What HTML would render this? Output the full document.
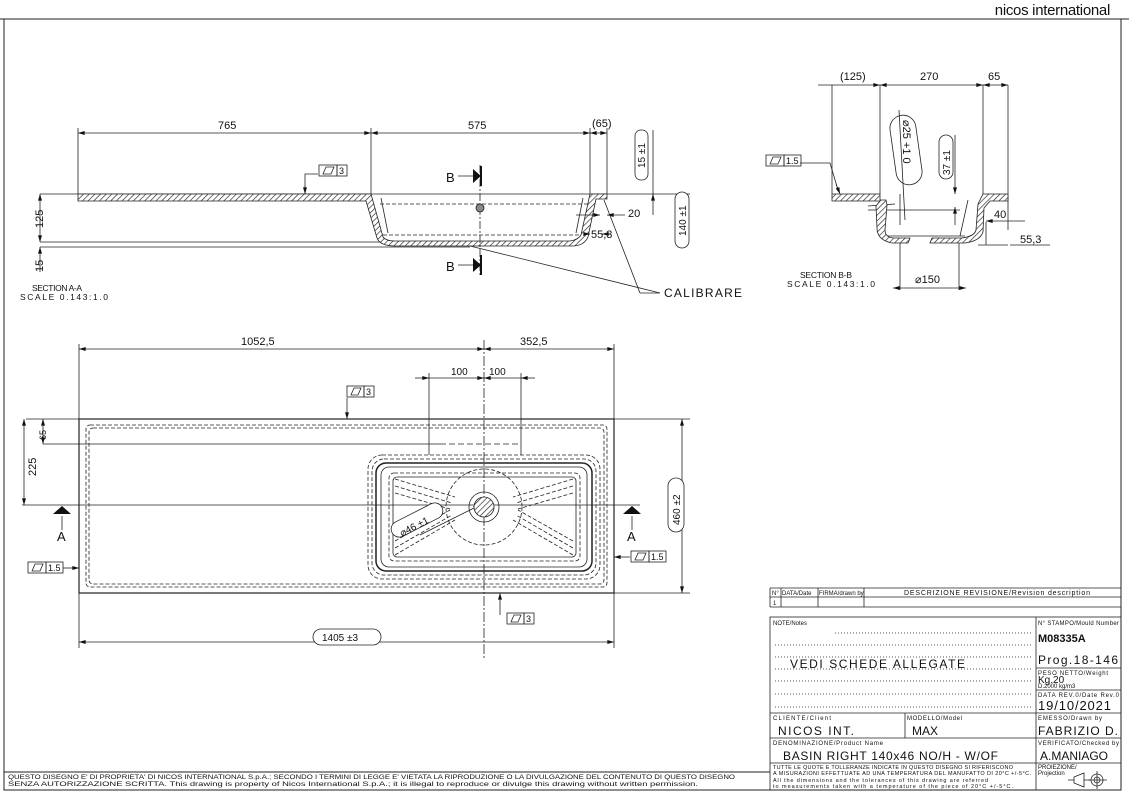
<!DOCTYPE html>
<html><head><meta charset="utf-8"><style>
body{margin:0;background:#fff}
svg{display:block;font-family:"Liberation Sans",sans-serif}
text{fill:#111}
</style></head><body>
<svg width="1129" height="798" viewBox="0 0 1129 798" xmlns="http://www.w3.org/2000/svg">
<defs>
<pattern id="h" width="4" height="4" patternUnits="userSpaceOnUse" patternTransform="rotate(45)"><rect width="4" height="4" fill="#fff"/><line x1="0" y1="0" x2="0" y2="4" stroke="#222" stroke-width="1.3"/></pattern>
<marker id="a" viewBox="0 0 10 6" refX="10" refY="3" markerWidth="9" markerHeight="5" orient="auto-start-reverse"><path d="M0,0L10,3L0,6z" fill="#111"/></marker>
</defs>
<rect width="1129" height="798" fill="#fff"/>
<text x="1110" y="15" font-size="15" text-anchor="end" style="letter-spacing:-0.3px">nicos international</text>
<g stroke="#222" fill="none" stroke-width="1">
<line x1="0" y1="19" x2="1129" y2="19"/>
<rect x="4" y="19" width="1117" height="771"/>
<line x1="4" y1="772" x2="770" y2="772"/>
</g>
<text x="8" y="779" font-size="6.5" textLength="727" lengthAdjust="spacingAndGlyphs">QUESTO DISEGNO E' DI PROPRIETA' DI NICOS INTERNATIONAL S.p.A.; SECONDO I TERMINI DI LEGGE E' VIETATA LA RIPRODUZIONE O LA DIVULGAZIONE DEL CONTENUTO DI QUESTO DISEGNO</text>
<text x="8" y="786" font-size="6.5" textLength="690" lengthAdjust="spacingAndGlyphs">SENZA AUTORIZZAZIONE SCRITTA. This drawing is property of Nicos International S.p.A.; it is illegal to reproduce or divulge this drawing without written permission.</text>

<!-- SECTION A-A -->
<g stroke="#222" stroke-width="0.8" fill="none">
<line x1="40" y1="194" x2="690" y2="194"/>
<line x1="40" y1="242" x2="385" y2="242"/>
<line x1="40" y1="247" x2="470" y2="247"/>
<line x1="78" y1="128" x2="78" y2="194"/>
<line x1="371" y1="128" x2="371" y2="194"/>
<line x1="590" y1="128" x2="590" y2="194"/>
<line x1="607" y1="128" x2="607" y2="194"/>
<line x1="78" y1="133" x2="371" y2="133" marker-start="url(#a)" marker-end="url(#a)"/>
<line x1="371" y1="133" x2="590" y2="133" marker-start="url(#a)" marker-end="url(#a)"/>
<line x1="590" y1="133" x2="607" y2="133" marker-start="url(#a)" marker-end="url(#a)"/>
<line x1="40" y1="194" x2="40" y2="242" marker-start="url(#a)" marker-end="url(#a)"/>
<line x1="40" y1="247" x2="40" y2="272" marker-start="url(#a)"/>
<line x1="682" y1="194" x2="682" y2="247" marker-start="url(#a)" marker-end="url(#a)"/>
<line x1="653" y1="130" x2="653" y2="215"/>
<line x1="653" y1="200" x2="653" y2="194" marker-end="url(#a)"/>
</g>
<path d="M78,194H371L383,237Q386,241 395,241H570Q578,240 581,235L590,194H607V199H596L588,237Q584,246 572,246H395Q380,246 377,238L366,201H78Z" fill="url(#h)" stroke="#222" stroke-width="0.8"/>
<g stroke="#222" stroke-width="0.8" fill="none">
<line x1="380" y1="204" x2="590" y2="204" stroke-dasharray="4,2"/>
<line x1="383" y1="235" x2="580" y2="235" stroke-dasharray="4,2"/>
<line x1="381" y1="198" x2="388" y2="233"/><line x1="583" y1="198" x2="576" y2="233"/>
<line x1="480" y1="165" x2="480" y2="275" stroke-dasharray="8,2,2,2"/>
<circle cx="480" cy="208" r="4" fill="#888"/>
<line x1="458" y1="176" x2="475" y2="176"/><line x1="458" y1="265" x2="475" y2="265"/>
<line x1="576" y1="215" x2="600" y2="215" marker-end="url(#a)"/><line x1="625" y1="215" x2="607" y2="215" marker-end="url(#a)"/>
<line x1="586" y1="234" x2="590" y2="234" marker-end="url(#a)"/><line x1="610" y1="234" x2="602" y2="234" marker-end="url(#a)"/>
<line x1="470" y1="246" x2="660" y2="293"/><line x1="604" y1="200" x2="640" y2="293"/><line x1="640" y1="293" x2="660" y2="293"/>
<path d="M305,194V174H318" /><line x1="305" y1="186" x2="305" y2="194" marker-end="url(#a)"/>
</g>
<path d="M473,169L481,176L473,183Z M473,258L481,265L473,272Z" fill="#111"/>
<line x1="481" y1="166" x2="481" y2="186" stroke="#111" stroke-width="2"/><line x1="481" y1="255" x2="481" y2="275" stroke="#111" stroke-width="2"/>
<text x="446" y="182" font-size="13">B</text><text x="446" y="271" font-size="13">B</text>
<rect x="319" y="165" width="18" height="11" fill="none" stroke="#222" stroke-width="0.8"/><rect x="337" y="165" width="10" height="11" fill="none" stroke="#222" stroke-width="0.8"/>
<text x="339" y="174" font-size="9">3</text><path d="M323,174L326,167H334L331,174Z" fill="none" stroke="#222" stroke-width="0.8"/>
<text x="218" y="129" font-size="11">765</text><text x="468" y="129" font-size="11">575</text><text x="592" y="127" font-size="11">(65)</text>
<text x="628" y="217" font-size="11">20</text><text x="591" y="238" font-size="11">55,3</text>
<text x="664" y="297" font-size="12" textLength="78">CALIBRARE</text>
<text transform="translate(43,228) rotate(-90)" font-size="11">125</text>
<text transform="translate(43,272) rotate(-90)" font-size="11">15</text>
<rect x="635" y="130" width="13" height="50" rx="6" fill="none" stroke="#222" stroke-width="0.8"/>
<text transform="translate(645,168) rotate(-90)" font-size="10">15 ±1</text>
<rect x="675" y="192" width="14" height="56" rx="7" fill="#fff" stroke="#222" stroke-width="0.8"/>
<text transform="translate(686,236) rotate(-90)" font-size="10">140 ±1</text>
<text x="32" y="291" font-size="8.5" textLength="50">SECTION A-A</text><text x="20" y="300" font-size="8.5" textLength="88">SCALE 0.143:1.0</text>

<!-- SECTION B-B -->
<g stroke="#222" stroke-width="0.8" fill="none">
<line x1="832" y1="85" x2="832" y2="194"/><line x1="880" y1="85" x2="880" y2="194"/>
<line x1="983" y1="85" x2="983" y2="194"/><line x1="1008" y1="85" x2="1008" y2="230"/>
<line x1="818" y1="85" x2="880" y2="85" marker-end="url(#a)"/>
<line x1="880" y1="85" x2="983" y2="85" marker-start="url(#a)" marker-end="url(#a)"/>
<line x1="983" y1="85" x2="1008" y2="85" marker-start="url(#a)" marker-end="url(#a)"/>
<line x1="986" y1="222" x2="986" y2="245"/>
<line x1="1025" y1="221" x2="986" y2="221" marker-end="url(#a)"/>
<line x1="978" y1="245" x2="1008" y2="245"/><line x1="1010" y1="245" x2="1050" y2="245"/>
<line x1="900" y1="238" x2="900" y2="290"/><line x1="959" y1="238" x2="959" y2="290"/>
<line x1="893" y1="288" x2="966" y2="288" marker-start="url(#a)" marker-end="url(#a)"/>
<line x1="899" y1="110" x2="905" y2="220"/><line x1="955" y1="135" x2="955" y2="194" marker-end="url(#a)"/>
<line x1="955" y1="212" x2="955" y2="225"/><line x1="955" y1="212" x2="955" y2="207" marker-end="url(#a)"/>
<line x1="900" y1="194" x2="900" y2="225"/>
<line x1="868" y1="210" x2="960" y2="210"/><line x1="868" y1="206" x2="895" y2="204"/>
<path d="M800,163H830L838,190" /><line x1="836" y1="184" x2="840" y2="194" marker-end="url(#a)"/>
<line x1="887" y1="236" x2="965" y2="236"/><line x1="968" y1="200" x2="960" y2="236"/>
</g>
<path d="M832,194H880V200H886L887,205L885,230Q885,238 895,238L910,238L908,243L892,243Q877,240 877,228L876,206L880,201H832Z" fill="url(#h)" stroke="#222" stroke-width="0.8"/>
<path d="M983,194H1008V201H990L984,208L983,232Q980,241 965,243H930L932,238H962Q975,236 976,230L978,204Z" fill="url(#h)" stroke="#222" stroke-width="0.8"/>
<rect x="766" y="155" width="18" height="11" fill="none" stroke="#222" stroke-width="0.8"/><rect x="784" y="155" width="17" height="11" fill="none" stroke="#222" stroke-width="0.8"/>
<path d="M770,164L773,157H781L778,164Z" fill="none" stroke="#222" stroke-width="0.8"/><text x="786" y="164" font-size="9">1.5</text>
<text x="840" y="80" font-size="11">(125)</text><text x="920" y="80" font-size="11">270</text><text x="988" y="80" font-size="11">65</text>
<text x="994" y="218" font-size="11">40</text><text x="1020" y="243" font-size="11">55,3</text><text x="915" y="283" font-size="11">⌀150</text>
<rect x="893" y="115" width="26" height="70" rx="13" fill="none" stroke="#222" stroke-width="0.8" transform="rotate(-8 906 150)"/>
<text transform="translate(903,120) rotate(90)" font-size="11">⌀25 +1 0</text>
<rect x="939" y="135" width="14" height="44" rx="7" fill="none" stroke="#222" stroke-width="0.8"/>
<text transform="translate(950,175) rotate(-90)" font-size="10">37 ±1</text>
<text x="800" y="278" font-size="8.5" textLength="52">SECTION B-B</text><text x="787" y="287" font-size="8.5" textLength="88">SCALE 0.143:1.0</text>

<!-- PLAN VIEW -->
<g stroke="#222" fill="none" stroke-width="0.8">
<rect x="79" y="419" width="535" height="174" stroke-width="1.2"/>
<rect x="86" y="425" width="521" height="162" rx="4" stroke-dasharray="4,2"/>
<rect x="89" y="428" width="515" height="156" rx="4" stroke-dasharray="4,2"/>
<line x1="79" y1="344" x2="79" y2="419"/><line x1="614" y1="344" x2="614" y2="419"/>
<line x1="79" y1="349" x2="484" y2="349" marker-start="url(#a)" marker-end="url(#a)"/>
<line x1="484" y1="349" x2="614" y2="349" marker-start="url(#a)" marker-end="url(#a)"/>
<line x1="484" y1="340" x2="484" y2="660" stroke-dasharray="10,2,2,2"/>
<line x1="429" y1="373" x2="429" y2="455"/><line x1="521" y1="373" x2="521" y2="455"/>
<line x1="415" y1="378" x2="429" y2="378" marker-end="url(#a)"/><line x1="429" y1="378" x2="484" y2="378" marker-end="url(#a)"/>
<line x1="521" y1="378" x2="484" y2="378" marker-end="url(#a)"/><line x1="535" y1="378" x2="521" y2="378" marker-end="url(#a)"/>
<line x1="43" y1="444" x2="440" y2="444"/><line x1="440" y1="444" x2="520" y2="444" stroke-dasharray="6,3"/>
<line x1="22" y1="505" x2="640" y2="505"/>
<line x1="26" y1="419" x2="79" y2="419"/>
<line x1="24" y1="419" x2="24" y2="505" marker-start="url(#a)" marker-end="url(#a)"/>
<line x1="43" y1="419" x2="43" y2="444" marker-start="url(#a)" marker-end="url(#a)"/>
<line x1="614" y1="419" x2="690" y2="419"/><line x1="614" y1="593" x2="690" y2="593"/>
<line x1="682" y1="419" x2="682" y2="593" marker-start="url(#a)" marker-end="url(#a)"/>
<line x1="79" y1="593" x2="79" y2="648"/><line x1="614" y1="593" x2="614" y2="648"/>
<line x1="79" y1="642" x2="614" y2="642" marker-start="url(#a)" marker-end="url(#a)"/>
<line x1="347" y1="398" x2="347" y2="419" marker-end="url(#a)"/>
<line x1="500" y1="615" x2="500" y2="593" marker-end="url(#a)"/>
<line x1="63" y1="568" x2="79" y2="568" marker-end="url(#a)"/>
<line x1="630" y1="557" x2="614" y2="557" marker-end="url(#a)"/>
<line x1="62" y1="516" x2="62" y2="530"/><line x1="632" y1="516" x2="632" y2="530"/>
<rect x="368" y="455" width="232" height="124" rx="14" stroke-dasharray="4,2"/>
<rect x="372" y="459" width="224" height="116" rx="12" stroke-dasharray="4,2"/>
<rect x="376" y="463" width="216" height="108" rx="10" stroke-width="1.5"/>
<rect x="381" y="467" width="206" height="100" rx="8"/>
<rect x="389" y="473" width="191" height="88" rx="5" stroke-dasharray="4,2"/>
<rect x="393" y="477" width="183" height="80" rx="4"/>
<circle cx="484" cy="507" r="38" stroke-dasharray="4,2"/>
<circle cx="484" cy="507" r="15"/>
<g stroke-dasharray="4,2">
<line x1="395" y1="479" x2="455" y2="497"/><line x1="395" y1="486" x2="452" y2="503"/><line x1="395" y1="493" x2="450" y2="509"/>
<line x1="573" y1="479" x2="513" y2="497"/><line x1="573" y1="486" x2="516" y2="503"/><line x1="573" y1="493" x2="518" y2="509"/>
<line x1="395" y1="555" x2="455" y2="520"/><line x1="395" y1="548" x2="452" y2="515"/><line x1="395" y1="541" x2="450" y2="510"/>
<line x1="573" y1="555" x2="513" y2="520"/><line x1="573" y1="548" x2="516" y2="515"/><line x1="573" y1="541" x2="518" y2="510"/>
</g>
<line x1="420" y1="535" x2="480" y2="505" marker-end="url(#a)"/>
</g>
<circle cx="484" cy="507" r="10" fill="url(#h)" stroke="#222" stroke-width="0.8"/>
<path d="M53,514H71L62,506Z M623,514H641L632,506Z" fill="#111"/>
<text x="57" y="541" font-size="13">A</text><text x="627" y="541" font-size="13">A</text>
<rect x="389" y="512" width="56" height="16" rx="8" fill="#fff" stroke="#222" stroke-width="0.8" transform="rotate(-27 417 520)"/>
<text x="396" y="528" font-size="10" transform="rotate(-27 417 520)">⌀46 ±1</text>
<text x="241" y="345" font-size="11">1052,5</text><text x="520" y="345" font-size="11">352,5</text>
<text x="451" y="375" font-size="10">100</text><text x="489" y="375" font-size="10">100</text>
<text transform="translate(46,440) rotate(-90)" font-size="9">65</text>
<text transform="translate(36,476) rotate(-90)" font-size="11">225</text>
<rect x="668" y="478" width="16" height="54" rx="8" fill="#fff" stroke="#222" stroke-width="0.8"/>
<text transform="translate(680,525) rotate(-90)" font-size="10">460 ±2</text>
<rect x="313" y="629" width="68" height="16" rx="8" fill="#fff" stroke="#222" stroke-width="0.8"/>
<text x="322" y="641" font-size="10">1405 ±3</text>
<g stroke="#222" stroke-width="0.8" fill="none">
<rect x="347" y="386" width="17" height="11"/><rect x="364" y="386" width="10" height="11"/><path d="M351,395L354,388H361L358,395Z"/>
<rect x="507" y="613" width="17" height="11"/><rect x="524" y="613" width="10" height="11"/><path d="M511,622L514,615H521L518,622Z"/>
<rect x="28" y="562" width="18" height="11"/><rect x="46" y="562" width="17" height="11"/><path d="M32,571L35,564H43L40,571Z"/>
<rect x="631" y="551" width="18" height="11"/><rect x="649" y="551" width="17" height="11"/><path d="M635,560L638,553H646L643,560Z"/>
</g>
<text x="366" y="395" font-size="9">3</text><text x="526" y="622" font-size="9">3</text>
<text x="48" y="571" font-size="9">1.5</text><text x="651" y="560" font-size="9">1.5</text>

<!-- TITLE BLOCK -->
<g stroke="#222" stroke-width="0.8" fill="none">
<line x1="770" y1="588" x2="1121" y2="588"/><line x1="770" y1="597" x2="1121" y2="597"/><line x1="770" y1="607" x2="1121" y2="607"/>
<line x1="770" y1="588" x2="770" y2="607"/><line x1="781" y1="588" x2="781" y2="607"/><line x1="818" y1="588" x2="818" y2="607"/><line x1="864" y1="588" x2="864" y2="607"/>
<rect x="770" y="617" width="351" height="173"/>
<line x1="1036" y1="617" x2="1036" y2="790"/>
<line x1="1036" y1="668" x2="1121" y2="668"/><line x1="1036" y1="690" x2="1121" y2="690"/>
<line x1="770" y1="713" x2="1121" y2="713"/><line x1="770" y1="738" x2="1121" y2="738"/><line x1="770" y1="763" x2="1121" y2="763"/>
<line x1="905" y1="713" x2="905" y2="738"/>
<g stroke-dasharray="1,2"><line x1="835" y1="633" x2="1033" y2="633"/><line x1="775" y1="645" x2="1033" y2="645"/><line x1="775" y1="657" x2="1033" y2="657"/><line x1="775" y1="669" x2="1033" y2="669"/><line x1="775" y1="681" x2="1033" y2="681"/><line x1="775" y1="694" x2="1033" y2="694"/><line x1="775" y1="707" x2="1033" y2="707"/></g>
<path d="M1074,777L1084,773V787L1074,783Z M1084,780H1090 M1068,780H1074"/>
<circle cx="1097" cy="780" r="6"/><circle cx="1097" cy="780" r="3"/><line x1="1088" y1="780" x2="1107" y2="780"/><line x1="1097" y1="771" x2="1097" y2="789"/>
</g>
<g font-size="6">
<text x="772" y="595">N°</text><text x="782" y="595">DATA/Date</text><text x="819" y="595">FIRMA/drawn by</text>
<text x="904" y="595" font-size="7" textLength="186">DESCRIZIONE REVISIONE/Revision description</text>
<text x="773" y="605">1</text>
<text x="773" y="625">NOTE/Notes</text>
<text x="1038" y="625" textLength="81">N° STAMPO/Mould Number</text>
<text x="1038" y="675" textLength="70">PESO NETTO/Weight</text>
<text x="1038" y="697" textLength="81">DATA REV.0/Date Rev.0</text>
<text x="773" y="720" textLength="58">CLIENTE/Client</text><text x="907" y="720" textLength="55">MODELLO/Model</text><text x="1038" y="720" textLength="64">EMESSO/Drawn by</text>
<text x="773" y="745" textLength="110">DENOMINAZIONE/Product Name</text><text x="1038" y="745" textLength="81">VERIFICATO/Checked by</text>
<text x="773" y="769" font-size="5.5" textLength="240">TUTTE LE QUOTE E TOLLERANZE INDICATE IN QUESTO DISEGNO SI RIFERISCONO</text>
<text x="773" y="775" font-size="5.5" textLength="258">A MISURAZIONI EFFETTUATE AD UNA TEMPERATURA DEL MANUFATTO DI 20°C +/-5°C.</text>
<text x="773" y="782" font-size="5.5" textLength="215">All the dimensions and the tolerances of this drawing are referred</text>
<text x="773" y="788" font-size="5.5" textLength="240">to measurements taken with a temperature of the piece of 20°C +/-5°C.</text>
<text x="1038" y="769">PROIEZIONE/</text><text x="1038" y="775">Projection</text>
<text x="1038" y="688">D.2000 kg/m3</text>
</g>
<text x="1038" y="642" font-size="11" font-weight="bold">M08335A</text>
<text x="1038" y="664" font-size="12" textLength="80">Prog.18-146</text>
<text x="1038" y="683" font-size="10">Kg.20</text>
<text x="1038" y="710" font-size="13" textLength="73">19/10/2021</text>
<text x="790" y="668" font-size="12" textLength="175">VEDI SCHEDE ALLEGATE</text>
<text x="778" y="735" font-size="12" textLength="76">NICOS INT.</text><text x="912" y="735" font-size="12">MAX</text>
<text x="1038" y="735" font-size="12" textLength="80">FABRIZIO D.</text>
<text x="783" y="760" font-size="12" textLength="215">BASIN RIGHT 140x46 NO/H - W/OF</text>
<text x="1040" y="760" font-size="12" textLength="68">A.MANIAGO</text>
</svg>
</body></html>
